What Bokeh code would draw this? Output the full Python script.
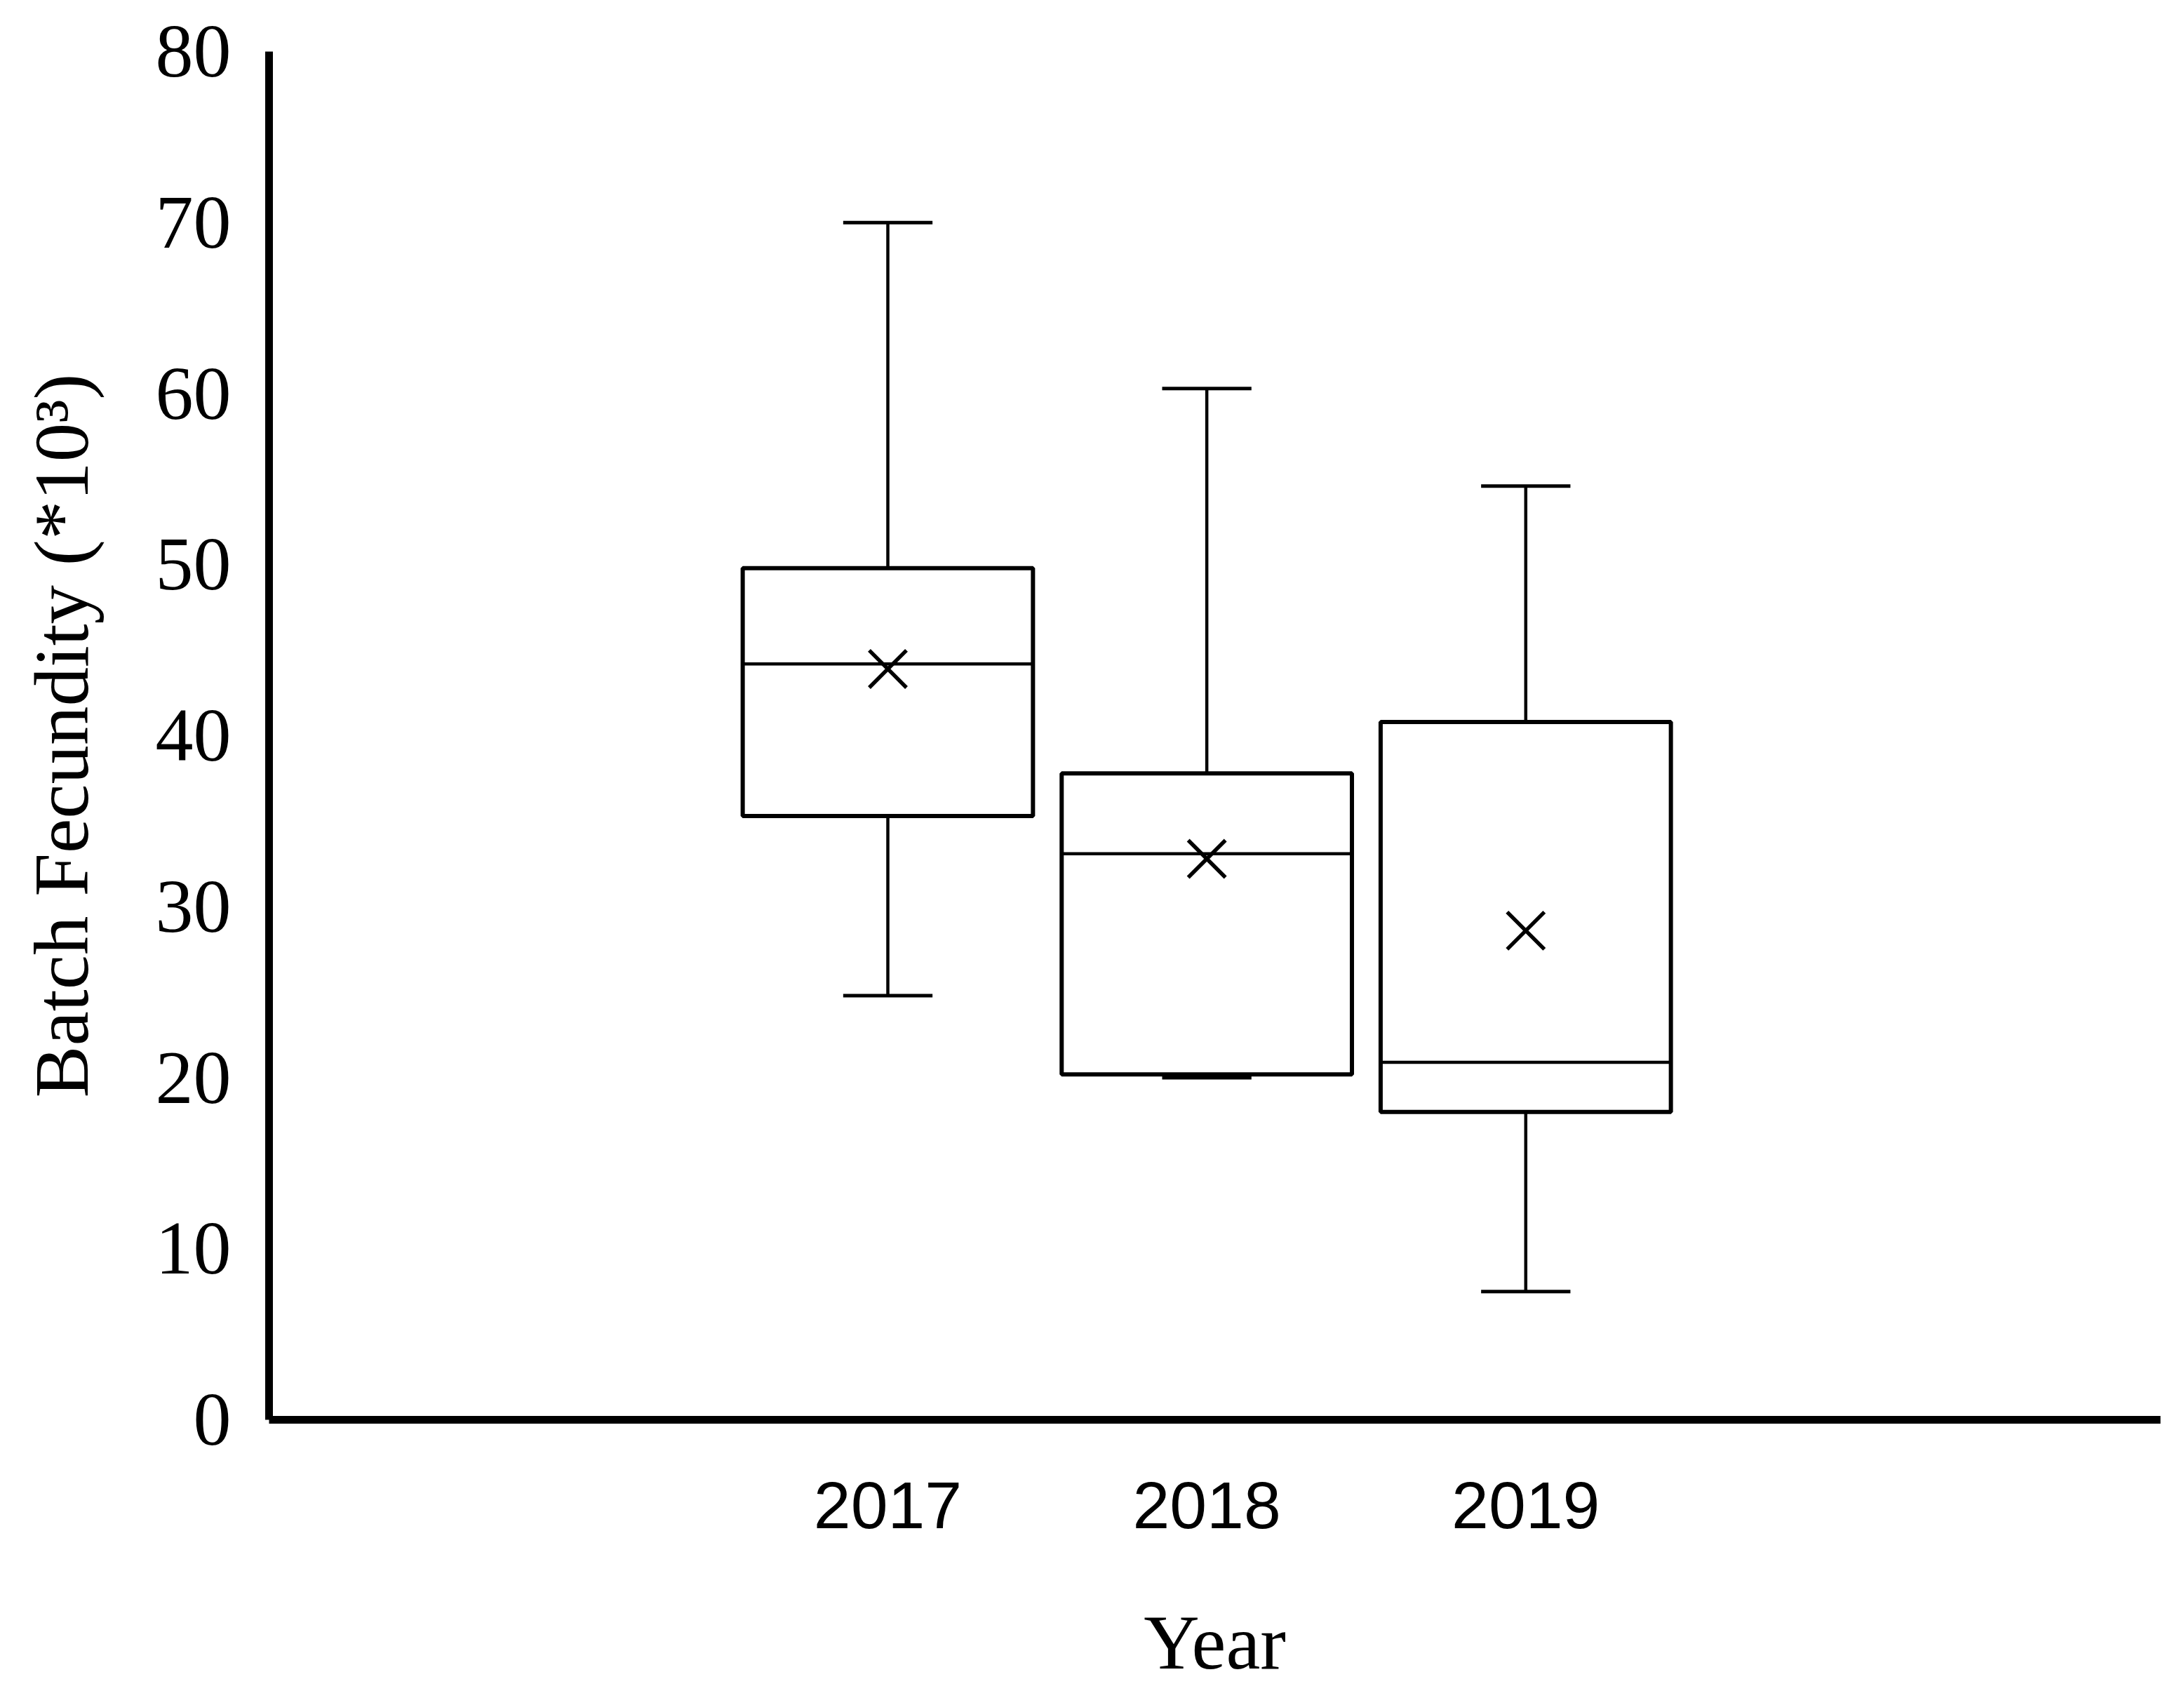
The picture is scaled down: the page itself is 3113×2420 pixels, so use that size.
from bokeh.plotting import figure
from bokeh.models import ColumnDataSource, FixedTicker, Range1d
from bokeh.embed import file_html
from bokeh.resources import INLINE

years = ["2017", "2018", "2019"]
upper = [70.0, 60.3, 54.6]
q3 = [49.8, 37.8, 40.8]
median = [44.2, 33.1, 20.9]
mean = [43.9, 32.8, 28.6]
q1 = [35.3, 20.2, 18.0]
lower = [24.8, 20.0, 7.5]

xs = [i + 1 for i in range(len(years))]
box_w = 0.91
cap_w = 0.28

src = ColumnDataSource(dict(
    x=xs, upper=upper, q3=q3, median=median, mean=mean, q1=q1, lower=lower,
    left=[x - box_w / 2 for x in xs], right=[x + box_w / 2 for x in xs],
    cl=[x - cap_w / 2 for x in xs], cr=[x + cap_w / 2 for x in xs],
))

W, H = 3097, 2404
p = figure(width=W, height=H, output_backend="svg", toolbar_location=None,
           x_range=Range1d(-0.94, 4.99), y_range=Range1d(0, 80),
           min_border_left=383, min_border_right=18, min_border_top=73,
           min_border_bottom=381)
p.outline_line_color = None
p.xgrid.visible = False
p.ygrid.visible = False
p.background_fill_color = "white"
p.border_fill_color = "white"

# whiskers
p.segment(x0="x", y0="q3", x1="x", y1="upper", source=src, line_color="black", line_width=4.5)
p.segment(x0="x", y0="q1", x1="x", y1="lower", source=src, line_color="black", line_width=4.5)
p.segment(x0="cl", y0="upper", x1="cr", y1="upper", source=src, line_color="black", line_width=5)
p.segment(x0="cl", y0="lower", x1="cr", y1="lower", source=src, line_color="black", line_width=5)
# boxes
p.quad(left="left", right="right", bottom="q1", top="q3", source=src,
       fill_color="white", line_color="black", line_width=6)
# medians
p.segment(x0="left", y0="median", x1="right", y1="median", source=src, line_color="black", line_width=4.5)
# means
p.scatter(x="x", y="mean", source=src, marker="x", size=75, line_color="black", line_width=5.5)

serif = "Liberation Serif"

p.xaxis.ticker = FixedTicker(ticks=xs)
p.xaxis.major_label_overrides = {x: y for x, y in zip(xs, years)}
p.xaxis.major_label_text_font = "Liberation Sans"
p.xaxis.major_label_text_font_size = "95px"
p.xaxis.major_label_standoff = 83
p.xaxis.axis_label = "Year"
p.xaxis.axis_label_text_font = serif
p.xaxis.axis_label_text_font_size = "110px"
p.xaxis.axis_label_text_font_style = "normal"
p.xaxis.axis_label_standoff = 99

p.yaxis.ticker = FixedTicker(ticks=[0, 10, 20, 30, 40, 50, 60, 70, 80])
p.yaxis.major_label_text_font = serif
p.yaxis.major_label_text_font_size = "108px"
p.yaxis.major_label_standoff = 48
p.yaxis.axis_label = "Batch Fecundity (*10³)"
p.yaxis.axis_label_text_font = serif
p.yaxis.axis_label_text_font_size = "111px"
p.yaxis.axis_label_text_font_style = "normal"
p.yaxis.axis_label_standoff = 70

for ax in (p.xaxis, p.yaxis):
    ax.axis_line_color = "black"
    ax.axis_line_width = 11
    ax.major_tick_line_color = None
    ax.minor_tick_line_color = None
    ax.major_label_text_color = "black"
    ax.axis_label_text_color = "black"

open("out.html", "w").write(file_html(p, INLINE))
